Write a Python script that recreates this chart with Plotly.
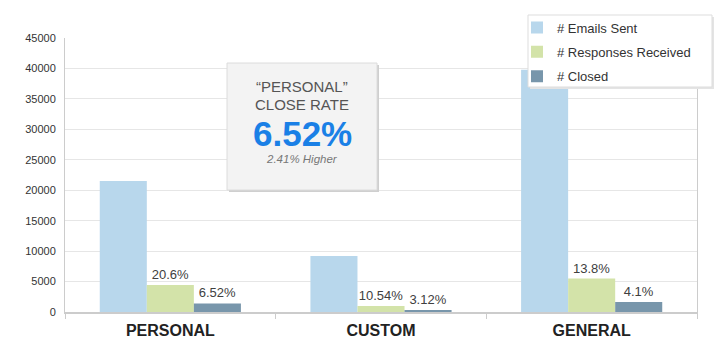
import plotly.graph_objects as go

categories = ["PERSONAL", "CUSTOM", "GENERAL"]
emails_sent = [21500, 9200, 39800]
responses = [4430, 970, 5490]
closed = [1400, 290, 1640]
response_labels = ["20.6%", "10.54%", "13.8%"]
closed_labels = ["6.52%", "3.12%", "4.1%"]
y_ticks = [0, 5000, 10000, 15000, 20000, 25000, 30000, 35000, 40000, 45000]

FONT = "Arial, 'Liberation Sans', sans-serif"

# plot-area pixel geometry helpers (for decoration placement only)
L, R, T, B, W, H = 65, 30, 38, 41, 727, 353
PW, PH = W - L - R, H - T - B
def px(x): return (x - L) / PW
def py(y): return (H - B - y) / PH

fig = go.Figure()
fig.add_trace(go.Bar(name="# Emails Sent", x=categories, y=emails_sent, legendgroup="a",
                     marker=dict(color="#b8d7ec", line=dict(width=0))))
fig.add_trace(go.Bar(name="# Responses Received", x=categories, y=responses, legendgroup="b",
                     text=response_labels, textposition="outside", cliponaxis=False,
                     textfont=dict(size=13, color="#404040", family=FONT),
                     marker=dict(color="#d3e3a9", line=dict(width=0))))
fig.add_trace(go.Bar(name="# Closed", x=categories, y=closed, legendgroup="c",
                     text=closed_labels, textposition="outside", cliponaxis=False,
                     textfont=dict(size=13, color="#404040", family=FONT),
                     marker=dict(color="#7896ab", line=dict(width=0))))

# callout box (shadow + box)
fig.add_shape(type="rect", xref="paper", yref="paper", x0=px(229), x1=px(379), y0=py(192), y1=py(65),
              fillcolor="#cfcfcf", line=dict(width=0), layer="above")
fig.add_shape(type="rect", xref="paper", yref="paper", x0=px(227), x1=px(377), y0=py(190), y1=py(63),
              fillcolor="#f3f3f3", line=dict(color="#dcdcdc", width=1), layer="above")

# legend box (shadow + box)
fig.add_shape(type="rect", xref="paper", yref="paper", x0=px(530), x1=px(714), y0=py(89), y1=py(17),
              fillcolor="#e4e4e4", line=dict(width=0), layer="above")
fig.add_shape(type="rect", xref="paper", yref="paper", x0=px(528), x1=px(712), y0=py(87), y1=py(15),
              fillcolor="white", line=dict(color="#dddddd", width=1), layer="above")

cx = px(302)
for txt, yy, f in [
    ("\u201cPERSONAL\u201d", 87, dict(size=15, color="#555555", family=FONT)),
    ("CLOSE RATE", 104, dict(size=15, color="#555555", family=FONT)),
    ("<b>6.52%</b>", 133, dict(size=35, color="#1a80e6", family=FONT)),
    ("<i>2.41% Higher</i>", 159, dict(size=11.5, color="#777777", family=FONT)),
]:
    fig.add_annotation(xref="paper", yref="paper", x=cx, y=py(yy), text=txt,
                       xanchor="center", yanchor="middle", showarrow=False, font=f)

fig.update_layout(
    width=W, height=H,
    margin=dict(l=L, r=R, t=T, b=B),
    paper_bgcolor="white", plot_bgcolor="white",
    barmode="group", bargap=0.33, bargroupgap=0,
    font=dict(family=FONT, color="#333333"),
    showlegend=True,
    legend=dict(x=px(517), y=py(12.5), xanchor="left", yanchor="top",
                bgcolor="rgba(0,0,0,0)", borderwidth=0,
                font=dict(size=13, color="#333333", family=FONT),
                itemwidth=30, tracegroupgap=4.5),
    xaxis=dict(tickvals=categories, ticktext=["<b>%s</b>" % c for c in categories],
               tickfont=dict(size=16, color="#222222", family=FONT),
               showline=True, linecolor="#cccccc", linewidth=1.5,
               ticks="outside", tickson="boundaries", ticklen=5, tickcolor="#cccccc",
               ticklabelstandoff=3, showgrid=False),
    yaxis=dict(range=[0, 45000], tickvals=y_ticks, tickformat="d",
               tickfont=dict(size=11, color="#333333", family=FONT),
               showline=True, mirror=True, linecolor="#cccccc", linewidth=1,
               gridcolor="#e6e6e6", gridwidth=1, zeroline=False,
               ticks="", ticklabelstandoff=6),
)

fig.write_html("out.html")
